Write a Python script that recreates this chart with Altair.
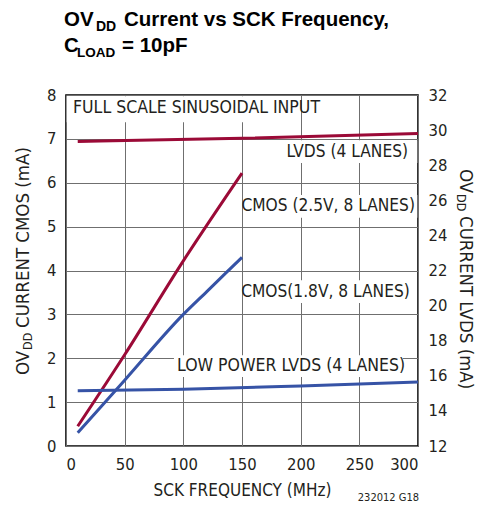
import altair as alt
import pandas as pd

# ---------------- data ----------------
FREQ_CMOS25 = [10, 50, 100, 150]
CUR_CMOS25 = [0.45, 2.08, 4.22, 6.22]          # left axis (mA)
FREQ_CMOS18 = [10, 50, 100, 120, 150]
CUR_CMOS18 = [0.30, 1.50, 3.00, 3.52, 4.30]    # left axis (mA)
FREQ_LVDS = [10, 150, 300]
CUR_LVDS = [29.35, 29.53, 29.80]               # right axis (mA)
FREQ_LPLVDS = [10, 100, 200, 300]
CUR_LPLVDS = [15.15, 15.23, 15.42, 15.65]      # right axis (mA)

X_TICKS = [0, 50, 100, 150, 200, 250, 300]
Y_LEFT_TICKS = [0, 1, 2, 3, 4, 5, 6, 7, 8]
Y_RIGHT_TICKS = [12, 14, 16, 18, 20, 22, 24, 26, 28, 30, 32]

LABELS_LEFT = ["FULL SCALE SINUSOIDAL INPUT", "LOW POWER LVDS (4 LANES)"]
LABELS_RIGHT = ["LVDS (4 LANES)", "CMOS (2.5V, 8 LANES)", "CMOS(1.8V, 8 LANES)"]

# ---------------- styling ----------------
FONT = "DejaVu Sans Condensed, sans-serif"
TFONT = "Liberation Sans, Arial, sans-serif"
RED = "#9b0a37"
BLUE = "#3653a6"
GRID = "#6f6f6f"
TXT = "#231f20"

# annotation placement (data coordinates of the left scale)
lab_left = pd.DataFrame({"x": [6, 94.6], "y": [7.70, 1.82], "t": LABELS_LEFT})
lab_right = pd.DataFrame({"x": [291.5, 297.4, 293.0], "y": [6.70, 5.47, 3.51], "t": LABELS_RIGHT})
boxes = pd.DataFrame({
    "x": [0.6, 92, 191, 152.6, 151.5],
    "x2": [198.5, 287, 299.4, 299.4, 296],
    "y": [7.38, 1.57, 6.45, 5.20, 3.26],
    "y2": [7.97, 2.07, 6.97, 5.72, 3.78],
})

X_AXIS = alt.Axis(values=X_TICKS, title="SCK FREQUENCY (MHz)", grid=True, gridColor=GRID,
                  gridWidth=1, ticks=False, domain=False, labelPadding=10, titlePadding=10,
                  labelFont=FONT, labelFontSize=16.5, labelColor=TXT, titleFont=FONT,
                  titleFontSize=17, titleFontWeight="normal", titleColor=TXT)
YL_AXIS = alt.Axis(values=Y_LEFT_TICKS, title=None, grid=True, gridColor=GRID, gridWidth=1,
                   ticks=False, domain=False, labelPadding=10, labelFont=FONT,
                   labelFontSize=16.5, labelColor=TXT)
YR_AXIS = alt.Axis(values=Y_RIGHT_TICKS, title=None, orient="right", grid=False,
                   ticks=False, domain=False, labelPadding=10, labelFont=FONT,
                   labelFontSize=16.5, labelColor=TXT)

XS = alt.Scale(domain=[0, 300], nice=False)
YLS = alt.Scale(domain=[0, 8], nice=False)
YRS = alt.Scale(domain=[12, 32], nice=False)


def xe(f="x"):
    return alt.X(f"{f}:Q", scale=XS, axis=X_AXIS)


def yl(f="y"):
    return alt.Y(f"{f}:Q", scale=YLS, axis=YL_AXIS)


def yr(f="y"):
    return alt.Y(f"{f}:Q", scale=YRS, axis=YR_AXIS)


def series(fx, fy):
    return pd.DataFrame({"x": fx, "y": fy})


box_layer = alt.Chart(boxes).mark_rect(color="white").encode(x=xe(), x2="x2", y=yl(), y2="y2")
cmos25 = alt.Chart(series(FREQ_CMOS25, CUR_CMOS25)).mark_line(
    color=RED, strokeWidth=3, interpolate="monotone").encode(x=xe(), y=yl())
cmos18 = alt.Chart(series(FREQ_CMOS18, CUR_CMOS18)).mark_line(
    color=BLUE, strokeWidth=3, interpolate="monotone").encode(x=xe(), y=yl())
txt_l = alt.Chart(lab_left).mark_text(align="left", baseline="middle", font=FONT,
                                      fontSize=17.5, color=TXT).encode(x=xe(), y=yl(), text="t:N")
txt_r = alt.Chart(lab_right).mark_text(align="right", baseline="middle", font=FONT,
                                       fontSize=17.2, color=TXT).encode(x=xe(), y=yl(), text="t:N")
left_group = alt.layer(box_layer, cmos25, cmos18, txt_l, txt_r)

lvds = alt.Chart(series(FREQ_LVDS, CUR_LVDS)).mark_line(
    color=RED, strokeWidth=3, interpolate="monotone").encode(x=xe(), y=yr())
lplvds = alt.Chart(series(FREQ_LPLVDS, CUR_LPLVDS)).mark_line(
    color=BLUE, strokeWidth=3, interpolate="monotone").encode(x=xe(), y=yr())
right_group = alt.layer(lvds, lplvds)

one = pd.DataFrame({"a": [0]})


def ptext(text, x, y, size, font=FONT, weight="normal", angle=0, align="left", color=TXT):
    return alt.Chart(one).mark_text(text=text, font=font, fontSize=size, fontWeight=weight,
                                    angle=angle, align=align, baseline="alphabetic",
                                    color=color).encode(x=alt.value(x), y=alt.value(y))


decor = [
    # title
    ptext("OV", -2, -69, 20.5, TFONT, "bold", color="black"),
    ptext("DD", 30, -64, 14, TFONT, "bold", color="black"),
    ptext("Current vs SCK Frequency,", 58, -69, 20.5, TFONT, "bold", color="black"),
    ptext("C", -2, -43, 20.5, TFONT, "bold", color="black"),
    ptext("LOAD", 11, -38, 13.5, TFONT, "bold", color="black"),
    ptext("= 10pF", 56, -43, 20.5, TFONT, "bold", color="black"),
    # left axis title (reads upward)
    ptext("OV", -37, 280, 18.5, angle=270),
    ptext("DD", -34, 255, 12.5, angle=270),
    ptext("CURRENT CMOS (mA)", -37, 233, 18.5, angle=270),
    # right axis title (reads downward)
    ptext("OV", 394, 74, 18.5, angle=90),
    ptext("DD", 391, 99, 12.5, angle=90),
    ptext("CURRENT LVDS (mA)", 394, 121, 18.5, angle=90),
    # figure code
    ptext("232012 G18", 353, 406, 11, align="right"),
]

chart = alt.layer(left_group, right_group, *decor).resolve_scale(y="independent").properties(
    width=352, height=351,
    autosize=alt.AutoSizeParams(type="none"),
    padding={"left": 58, "top": 87, "right": 66, "bottom": 60},
    background="white",
).configure_view(stroke="black", strokeWidth=1.6)

chart.save("out.html", embed_options={"renderer": "svg", "actions": False})
